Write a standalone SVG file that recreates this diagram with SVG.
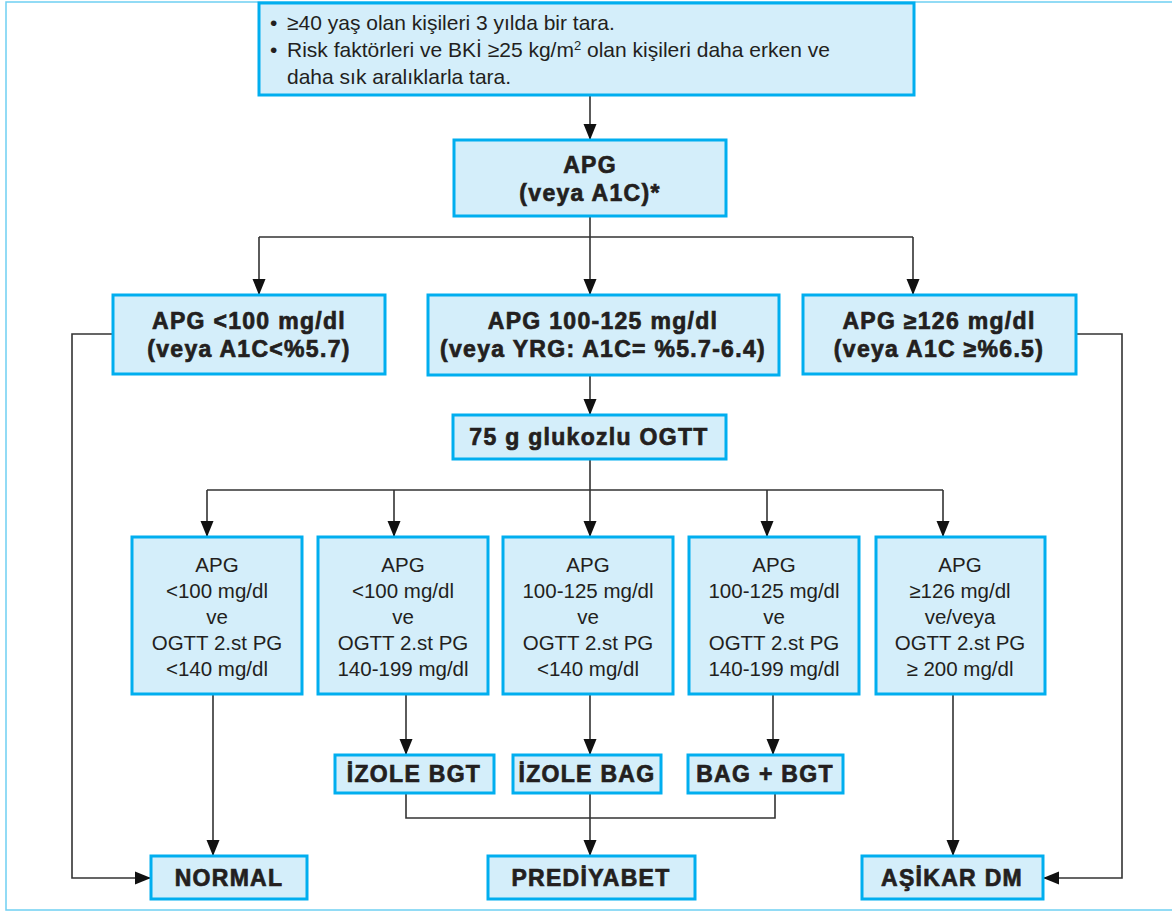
<svg xmlns="http://www.w3.org/2000/svg" width="1172" height="913" viewBox="0 0 1172 913">
<style>
.box{fill:#d4eefa;stroke:#00aeef;stroke-width:3}
.b{font-family:"Liberation Sans",Arial,sans-serif;font-weight:bold;font-size:23px;letter-spacing:1.3px;fill:#231f20;stroke:#231f20;stroke-width:0.7;text-anchor:middle}
.r{font-family:"Liberation Sans",Arial,sans-serif;font-size:20.5px;fill:#231f20;text-anchor:middle}
.t{font-family:"Liberation Sans",Arial,sans-serif;font-size:21px;fill:#231f20}
.ln{fill:none;stroke:#333;stroke-width:1.6}
.ar{fill:none;stroke:#333;stroke-width:1.6;marker-end:url(#ah)}
</style>
<defs>
<marker id="ah" markerUnits="userSpaceOnUse" markerWidth="16" markerHeight="14" refX="16" refY="7" orient="auto">
<path d="M0,0.5 L16,7 L0,13.5 z" fill="#111"/>
</marker>
</defs>
<rect x="6" y="2" width="1172" height="908" fill="none" stroke="#6fd0f2" stroke-width="1.5"/>

<g id="connectors">
<path class="ar" d="M590,95 V140"/>
<path class="ln" d="M590,216 V237 M259,237 H913"/>
<path class="ar" d="M259,237 V295"/>
<path class="ar" d="M590,237 V295"/>
<path class="ar" d="M913,237 V295"/>
<path class="ar" d="M113,334 H72 V878 H151"/>
<path class="ar" d="M1076,334 H1122 V878 H1043"/>
<path class="ar" d="M590,375 V415"/>
<path class="ln" d="M590,459 V490 M207,490 H943"/>
<path class="ar" d="M207,490 V537"/>
<path class="ar" d="M394,490 V537"/>
<path class="ar" d="M590,490 V537"/>
<path class="ar" d="M767,490 V537"/>
<path class="ar" d="M943,490 V537"/>
<path class="ar" d="M213,694 V856"/>
<path class="ar" d="M406,694 V755"/>
<path class="ar" d="M590,694 V755"/>
<path class="ar" d="M773,694 V755"/>
<path class="ar" d="M953,694 V856"/>
<path class="ln" d="M406,793 V818 H775 V793 M590,793 V818"/>
<path class="ar" d="M590,818 V856"/>
</g>

<g id="screen">
<rect class="box" x="259" y="3" width="655" height="92"/>
<text class="t" x="270" y="30">•</text>
<text class="t" x="287" y="30">≥40 yaş olan kişileri 3 yılda bir tara.</text>
<text class="t" x="270" y="57">•</text>
<text class="t" x="287" y="57">Risk faktörleri ve BKİ ≥25 kg/m<tspan font-size="13" dy="-7">2</tspan><tspan dy="7"> olan kişileri daha erken ve</tspan></text>
<text class="t" x="287" y="84">daha sık aralıklarla tara.</text>
</g>

<g id="apg">
<rect class="box" x="454" y="140" width="272" height="76"/>
<text class="b" x="590" y="173">APG</text>
<text class="b" x="590" y="201">(veya A1C)*</text>
</g>

<g id="apg-low">
<rect class="box" x="113" y="295" width="272" height="79"/>
<text class="b" x="249" y="329">APG &lt;100 mg/dl</text>
<text class="b" x="249" y="357">(veya A1C&lt;%5.7)</text>
</g>

<g id="apg-mid">
<rect class="box" x="428" y="295" width="351" height="80"/>
<text class="b" x="603" y="329">APG 100-125 mg/dl</text>
<text class="b" x="603" y="357">(veya YRG: A1C= %5.7-6.4)</text>
</g>

<g id="apg-high">
<rect class="box" x="803" y="295" width="273" height="79"/>
<text class="b" x="939" y="329">APG ≥126 mg/dl</text>
<text class="b" x="939" y="357">(veya A1C ≥%6.5)</text>
</g>

<g id="ogtt">
<rect class="box" x="453" y="415" width="273" height="44"/>
<text class="b" x="589" y="445">75 g glukozlu OGTT</text>
</g>

<g id="r1">
<rect class="box" x="132" y="537" width="170" height="157"/>
<text class="r" x="217" y="572">APG</text>
<text class="r" x="217" y="598">&lt;100 mg/dl</text>
<text class="r" x="217" y="624">ve</text>
<text class="r" x="217" y="650">OGTT 2.st PG</text>
<text class="r" x="217" y="676">&lt;140 mg/dl</text>
</g>

<g id="r2">
<rect class="box" x="318" y="537" width="170" height="157"/>
<text class="r" x="403" y="572">APG</text>
<text class="r" x="403" y="598">&lt;100 mg/dl</text>
<text class="r" x="403" y="624">ve</text>
<text class="r" x="403" y="650">OGTT 2.st PG</text>
<text class="r" x="403" y="676">140-199 mg/dl</text>
</g>

<g id="r3">
<rect class="box" x="503" y="537" width="170" height="157"/>
<text class="r" x="588" y="572">APG</text>
<text class="r" x="588" y="598">100-125 mg/dl</text>
<text class="r" x="588" y="624">ve</text>
<text class="r" x="588" y="650">OGTT 2.st PG</text>
<text class="r" x="588" y="676">&lt;140 mg/dl</text>
</g>

<g id="r4">
<rect class="box" x="689" y="537" width="170" height="157"/>
<text class="r" x="774" y="572">APG</text>
<text class="r" x="774" y="598">100-125 mg/dl</text>
<text class="r" x="774" y="624">ve</text>
<text class="r" x="774" y="650">OGTT 2.st PG</text>
<text class="r" x="774" y="676">140-199 mg/dl</text>
</g>

<g id="r5">
<rect class="box" x="876" y="537" width="169" height="157"/>
<text class="r" x="960" y="572">APG</text>
<text class="r" x="960" y="598">≥126 mg/dl</text>
<text class="r" x="960" y="624">ve/veya</text>
<text class="r" x="960" y="650">OGTT 2.st PG</text>
<text class="r" x="960" y="676">≥ 200 mg/dl</text>
</g>

<g id="izole-bgt">
<rect class="box" x="335" y="755" width="159" height="38"/>
<text class="b" x="414" y="782">İZOLE BGT</text>
</g>

<g id="izole-bag">
<rect class="box" x="513" y="755" width="148" height="38"/>
<text class="b" x="587" y="782">İZOLE BAG</text>
</g>

<g id="bag-bgt">
<rect class="box" x="688" y="755" width="155" height="38"/>
<text class="b" x="765" y="782">BAG + BGT</text>
</g>

<g id="normal">
<rect class="box" x="151" y="856" width="156" height="43"/>
<text class="b" x="229" y="886">NORMAL</text>
</g>

<g id="prediyabet">
<rect class="box" x="488" y="856" width="207" height="43"/>
<text class="b" x="591" y="886">PREDİYABET</text>
</g>

<g id="asikar">
<rect class="box" x="862" y="856" width="181" height="43"/>
<text class="b" x="952" y="886">AŞİKAR DM</text>
</g>
</svg>
